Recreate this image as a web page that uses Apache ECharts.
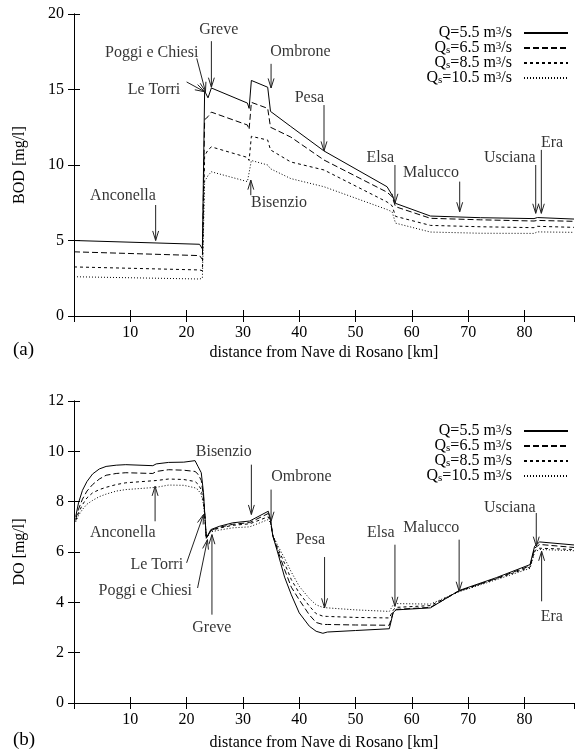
<!DOCTYPE html>
<html>
<head>
<meta charset="utf-8">
<script src="https://cdn.jsdelivr.net/npm/echarts@6.0.0/dist/echarts.min.js"></script>
<style>
html, body { margin: 0; padding: 0; background: #fff; }
#chart { width: 577px; height: 753px; }
</style>
</head>
<body>
<div id="chart"></div>
<script>
// flow cases (legend)
const caseNames = ['Q=5.5', 'Qs=6.5', 'Qs=8.5', 'Qs=10.5']
const caseLabels = [
  '{t|Q=5.5 m}{sup|3}{t|/s}',
  '{t|Q}{sub|s}{t|=6.5 m}{sup|3}{t|/s}',
  '{t|Q}{sub|s}{t|=8.5 m}{sup|3}{t|/s}',
  '{t|Q}{sub|s}{t|=10.5 m}{sup|3}{t|/s}'
]
const xMax = 88.8

// (a) BOD [mg/l]
const bodKm = [0, 22.3, 22.8, 23.2, 23.8, 24.4, 30.8, 31.1, 31.5, 34.4, 34.9, 38.5, 44.4, 55.6, 56.5, 57.1, 63.3, 72.2, 81.7, 82.3, 88.8]
const bodQ55 = [5.0, 4.75, 4.45, 14.9, 14.45, 15.1, 14.1, 13.75, 15.6, 15.15, 13.55, 12.55, 10.93, 8.56, 8.0, 7.46, 6.62, 6.51, 6.45, 6.52, 6.42]
const bodQ65 = [4.25, 4.0, 3.75, 13.0, 13.2, 13.5, 12.65, 12.35, 14.15, 13.75, 12.5, 11.85, 10.33, 8.2, 7.9, 7.24, 6.47, 6.37, 6.29, 6.33, 6.27]
const bodQ85 = [3.25, 3.05, 3.0, 10.6, 11.0, 11.2, 10.5, 10.3, 11.9, 11.65, 11.0, 10.2, 9.67, 7.55, 7.3, 6.6, 6.0, 5.91, 5.85, 5.94, 5.87]
const bodQ105 = [2.6, 2.45, 2.5, 8.9, 9.3, 9.55, 8.9, 8.8, 10.3, 10.0, 9.75, 9.1, 8.56, 7.05, 6.9, 6.15, 5.56, 5.48, 5.47, 5.57, 5.54]

// (b) DO [mg/l]
const doKm = [0.3, 0.8, 1.5, 2.3, 3.3, 4.5, 5.7, 7.5, 9.2, 14.0, 14.6, 16.8, 19.5, 21.5, 22.0, 22.6, 23.0, 23.2, 23.5, 24.3, 25.8, 28.2, 31.2, 34.5, 34.9, 35.3, 36.2, 37.4, 38.6, 40.0, 41.8, 43.0, 44.2, 45.0, 50.0, 56.0, 56.7, 57.2, 63.3, 68.4, 75.0, 81.0, 81.8, 82.7, 88.8]
const doQ55 = [7.4, 7.95, 8.45, 8.8, 9.1, 9.3, 9.4, 9.45, 9.47, 9.43, 9.5, 9.56, 9.57, 9.63, 9.41, 9.15, 8.35, 7.6, 6.55, 6.89, 7.02, 7.16, 7.23, 7.62, 7.3, 6.65, 5.96, 5.0, 4.3, 3.58, 3.05, 2.85, 2.77, 2.82, 2.88, 2.95, 3.6, 3.7, 3.78, 4.47, 4.98, 5.5, 6.23, 6.4, 6.28]
const doQ65 = [7.3, 7.7, 8.1, 8.42, 8.68, 8.9, 9.05, 9.12, 9.15, 9.12, 9.2, 9.27, 9.25, 9.2, 9.1, 8.85, 8.2, 7.6, 6.55, 6.86, 6.98, 7.1, 7.17, 7.53, 7.25, 6.65, 6.05, 5.3, 4.6, 4.1, 3.5, 3.2, 3.12, 3.12, 3.1, 3.09, 3.62, 3.72, 3.8, 4.45, 4.95, 5.45, 6.15, 6.3, 6.18]
const doQ85 = [7.25, 7.55, 7.88, 8.15, 8.35, 8.48, 8.57, 8.68, 8.75, 8.83, 8.84, 8.9, 8.88, 8.8, 8.7, 8.48, 8.0, 7.55, 6.55, 6.84, 6.95, 7.06, 7.12, 7.4, 7.2, 6.67, 6.15, 5.55, 4.9, 4.37, 3.85, 3.55, 3.45, 3.44, 3.4, 3.38, 3.7, 3.8, 3.87, 4.45, 4.93, 5.4, 6.05, 6.15, 6.1]
const doQ105 = [7.2, 7.45, 7.69, 7.9, 8.05, 8.2, 8.3, 8.42, 8.48, 8.56, 8.57, 8.66, 8.65, 8.55, 8.48, 8.28, 7.9, 7.5, 6.55, 6.8, 6.87, 6.96, 7.0, 7.29, 7.15, 6.68, 6.25, 5.75, 5.2, 4.64, 4.15, 3.9, 3.8, 3.78, 3.7, 3.64, 3.9, 3.95, 3.93, 4.42, 4.9, 5.35, 6.0, 6.1, 6.05]

// tributary arrows: name, tail km, tail value, head km, head value, label km, label value
const bodArrows = [
  ['Anconella', 14.5, 7.35, 14.5, 5.0, 8.7, 7.95],
  ['Poggi e Chiesi', 21.8, 17.06, 23.35, 14.85, 13.8, 17.4],
  ['Greve', 24.4, 18.2, 24.4, 15.15, 25.7, 18.94],
  ['Le Torri', 20.0, 15.5, 23.2, 14.85, 14.2, 14.97],
  ['Ombrone', 35.0, 16.7, 35.0, 15.1, 40.2, 17.5],
  ['Bisenzio', 31.4, 8.0, 31.4, 9.0, 36.4, 7.48],
  ['Pesa', 44.4, 13.97, 44.4, 10.93, 41.8, 14.44],
  ['Elsa', 57.0, 10.0, 57.0, 7.46, 54.4, 10.46],
  ['Malucco', 68.5, 8.9, 68.5, 6.9, 63.4, 9.47],
  ['Usciana', 82.0, 10.0, 82.0, 6.8, 77.4, 10.46],
  ['Era', 83.0, 11.0, 83.0, 6.8, 84.9, 11.46]
]
const doArrows = [
  ['Bisenzio', 31.5, 9.47, 31.5, 7.49, 26.6, 9.99],
  ['Ombrone', 35.0, 8.48, 35.0, 7.22, 40.4, 9.0],
  ['Anconella', 14.4, 7.22, 14.4, 8.61, 8.67, 6.77],
  ['Le Torri', 20.0, 5.57, 23.0, 7.49, 14.7, 5.5],
  ['Poggi e Chiesi', 21.95, 4.57, 23.7, 6.49, 12.66, 4.47],
  ['Greve', 24.5, 3.51, 24.5, 6.69, 24.48, 2.99],
  ['Pesa', 44.5, 5.8, 44.5, 3.78, 41.97, 6.47],
  ['Elsa', 57.0, 6.29, 57.0, 3.84, 54.5, 6.77],
  ['Malucco', 68.4, 6.49, 68.4, 4.44, 63.46, 6.97],
  ['Usciana', 82.1, 7.55, 82.1, 6.23, 77.4, 7.77],
  ['Era', 83.05, 4.04, 83.05, 6.03, 84.87, 3.43]
]

const font = 'Liberation Serif'
const dashes = ['solid', [6, 3], [3, 3], [1, 2]]

const chart = echarts.init(document.getElementById('chart'))

const pairs = (xs, ys) => xs.map((x, i) => [x, ys[i]])

function lineSeries(idx, xs, lists) {
  return lists.map((ys, k) => ({
    name: caseNames[k],
    type: 'line',
    xAxisIndex: idx * 2,
    yAxisIndex: idx * 2,
    data: pairs(xs, ys),
    symbol: 'none',
    color: '#000',
    lineStyle: { color: '#000', width: 1, type: dashes[k] },
    z: 3
  }))
}

function arrowSeries(idx, arrows) {
  return {
    type: 'custom',
    xAxisIndex: idx * 2,
    yAxisIndex: idx * 2,
    silent: true,
    data: arrows.map(a => a.slice(1, 5)),
    renderItem: (params, api) => {
      const a = api.coord([api.value(0), api.value(1)])
      const b = api.coord([api.value(2), api.value(3)])
      const ang = Math.atan2(b[1] - a[1], b[0] - a[0])
      const L = 10, w = 0.3
      const h1 = [b[0] - L * Math.cos(ang - w), b[1] - L * Math.sin(ang - w)]
      const h2 = [b[0] - L * Math.cos(ang + w), b[1] - L * Math.sin(ang + w)]
      const st = { stroke: '#222', lineWidth: 1, fill: null }
      return {
        type: 'group',
        children: [
          { type: 'polyline', shape: { points: [a, b] }, style: st },
          { type: 'polyline', shape: { points: [h1, b, h2] }, style: st }
        ]
      }
    },
    z: 4
  }
}

function labelSeries(idx, arrows) {
  return {
    type: 'scatter',
    xAxisIndex: idx * 2,
    yAxisIndex: idx * 2,
    silent: true,
    symbolSize: 1,
    itemStyle: { color: 'rgba(0,0,0,0)' },
    data: arrows.map(a => ({ name: a[0], value: [a[5], a[6]] })),
    label: {
      show: true,
      position: 'inside',
      formatter: p => p.name,
      color: '#000',
      fontFamily: font,
      fontSize: 16
    },
    labelLayout: { hideOverlap: false },
    z: 5
  }
}

const grids = [
  { left: 74, right: 3, top: 14, height: 302 },
  { left: 74, right: 3, top: 401, height: 302 }
]

function xAxes(idx, gap) {
  const base = {
    gridIndex: idx, type: 'value', min: 0, max: xMax, interval: 10,
    splitLine: { show: false },
    axisLine: { show: true, lineStyle: { color: '#000', width: 1 } },
    axisTick: { show: true, inside: true, length: 6, lineStyle: { color: '#000' } }
  }
  return [
    Object.assign({}, base, {
      position: 'bottom',
      name: 'distance from Nave di Rosano [km]',
      nameLocation: 'middle',
      nameGap: gap,
      nameTextStyle: { fontFamily: font, fontSize: 16, color: '#000' },
      axisLabel: {
        margin: 9, fontFamily: font, fontSize: 16, color: '#000',
        formatter: v => (v > 0 && v < 85) ? String(v) : '',
        showMaxLabel: false
      }
    }),
    Object.assign({}, base, { position: 'top', axisLabel: { show: false } })
  ]
}

function yAxes(idx, max, step, name) {
  const base = {
    gridIndex: idx, type: 'value', min: 0, max: max, interval: step,
    splitLine: { show: false },
    axisLine: { show: true, lineStyle: { color: '#000', width: 1 } },
    axisTick: { show: true, inside: true, length: 6, lineStyle: { color: '#000' } }
  }
  return [
    Object.assign({}, base, {
      position: 'left',
      name: name,
      nameLocation: 'middle',
      nameGap: 46,
      nameTextStyle: { fontFamily: font, fontSize: 16, color: '#000' },
      axisLabel: { margin: 10, fontFamily: font, fontSize: 16, color: '#000' }
    }),
    Object.assign({}, base, { position: 'right', axisLabel: { show: false } })
  ]
}

function legend(top) {
  return {
    orient: 'vertical',
    right: 8,
    top: top,
    align: 'right',
    padding: 0,
    itemGap: -1,
    itemWidth: 44,
    itemHeight: 10,
    data: caseNames,
    selectedMode: false,
    itemStyle: { opacity: 0 },
    formatter: n => caseLabels[caseNames.indexOf(n)],
    textStyle: {
      padding: [0, 7, 0, 0],
      rich: {
        t: { fontFamily: font, fontSize: 16, lineHeight: 15, color: '#000' },
        sup: { fontFamily: font, fontSize: 11, lineHeight: 4, verticalAlign: 'top', color: '#000' },
        sub: { fontFamily: font, fontSize: 11, lineHeight: 6, verticalAlign: 'bottom', color: '#000' }
      }
    }
  }
}

const option = {
  animation: false,
  backgroundColor: '#fff',
  grid: grids,
  xAxis: xAxes(0, 29).concat(xAxes(1, 32)),
  yAxis: yAxes(0, 20, 5, 'BOD [mg/l]').concat(yAxes(1, 12, 2, 'DO [mg/l]')),
  legend: [legend(25), legend(423)],
  graphic: [
    { type: 'text', left: 13, top: 341, style: { text: '(a)', fontFamily: font, fontSize: 19, fill: '#000' } },
    { type: 'text', left: 13, top: 731, style: { text: '(b)', fontFamily: font, fontSize: 19, fill: '#000' } }
  ],
  series: [
    ...lineSeries(0, bodKm, [bodQ55, bodQ65, bodQ85, bodQ105]),
    ...lineSeries(1, doKm, [doQ55, doQ65, doQ85, doQ105]),
    arrowSeries(0, bodArrows),
    arrowSeries(1, doArrows),
    labelSeries(0, bodArrows),
    labelSeries(1, doArrows)
  ]
}

chart.setOption(option)
</script>
</body>
</html>
